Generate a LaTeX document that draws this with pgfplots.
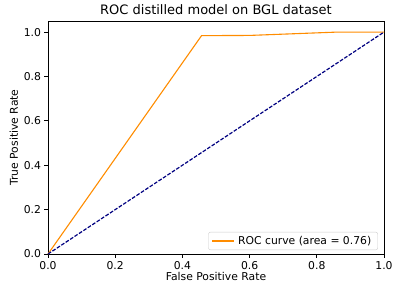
\documentclass[border=0pt]{standalone}
\usepackage{fontspec}
\setmainfont{DejaVu Sans}
\usepackage{pgfplots}
\pgfplotsset{compat=1.18}
\definecolor{darkorange}{RGB}{255,140,0}
\definecolor{navyc}{RGB}{0,0,128}
\begin{document}
\begin{tikzpicture}
\useasboundingbox (0,0) rectangle (393pt,284pt);
\begin{axis}[
  at={(48pt,30pt)}, anchor=south west,
  scale only axis, width=336pt, height=233pt,
  xmin=0, xmax=1, ymin=0, ymax=1.05,
  xtick={0,0.2,...,1.0}, ytick={0,0.2,...,1.0},
  xticklabels={0.0,0.2,0.4,0.6,0.8,1.0},
  yticklabels={0.0,0.2,0.4,0.6,0.8,1.0},
  tick align=outside, tick pos=left,
  major tick length=3.5pt,
  tick style={black, line width=0.8pt},
  axis line style={black, line width=0.8pt},
  ticklabel style={font=\fontsize{10.8}{13}\selectfont},
  title={ROC distilled model on BGL dataset},
  title style={font=\fontsize{13}{15}\selectfont, yshift=-3pt},
  xlabel={False Positive Rate},
  ylabel={True Positive Rate},
  label style={font=\fontsize{10.8}{13}\selectfont},
  xlabel style={yshift=4pt},
  ylabel style={yshift=-1pt},
  legend image code/.code={\draw[#1, line width=1.1pt] (0pt,0pt) -- (22pt,0pt);},
  legend style={font=\fontsize{10.8}{13}\selectfont, draw=black!20, rounded corners=2pt, inner xsep=3pt, inner ysep=2pt, at={(0.982,0.017)}, anchor=south east, nodes={inner xsep=3.5pt}},
  legend cell align=left,
  clip=false,
]
\addplot[darkorange, line width=1.1pt] coordinates {(0,0) (0.457,0.984) (0.6,0.985) (0.86,1.0) (1,1)};
\addlegendentry{ROC curve (area = 0.76)}
\addplot[navyc, line width=1.2pt, dash pattern=on 3.7pt off 1.6pt, forget plot] coordinates {(0,0) (1,1)};
\end{axis}
\end{tikzpicture}
\end{document}
